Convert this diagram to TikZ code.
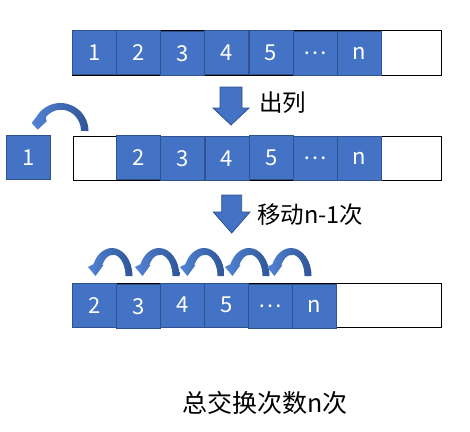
\documentclass[tikz,border=0pt]{standalone}
\usepackage{fontspec}
\setmainfont{Noto Sans CJK SC}
\definecolor{cellblue}{HTML}{4472C4}
\definecolor{cellborder}{HTML}{2F528F}
\definecolor{arcdark}{HTML}{2F5597}
\definecolor{arclight}{HTML}{5283D4}
\begin{document}
\begin{tikzpicture}[x=1pt,y=-1pt,
  cell/.style={draw=cellborder, line width=0.8pt, fill=cellblue, text=white,
    minimum width=44pt, minimum height=44pt, inner sep=0pt, anchor=north west,
    font=\fontsize{22}{26}\selectfont},
  queue/.style={draw=black, line width=1pt, fill=white, inner sep=0pt, anchor=north west},
  lbl/.style={inner sep=0pt, font=\fontsize{23.5}{28}\selectfont},
  downarrow/.style={fill=cellblue, draw=cellborder, line width=0.8pt},
  arcshade/.style={left color=arclight, right color=arcdark},
  smallarc/.pic={
    \shade[arcshade] (0,0) arc[start angle=0,end angle=-155,x radius=20.5,y radius=28]
      -- (-44.5,-9) -- (-37,0) -- (-29,-11) -- (-30.3,-10.65)
      arc[start angle=-150,end angle=0,x radius=12.5,y radius=21.3] -- cycle;
  },
  bigarc/.pic={
    \shade[arcshade] (0,0) arc[start angle=0,end angle=-150,x radius=28,y radius=28]
      -- (-56.8,-8) -- (-50.8,-1.3) -- (-41.8,-9.7) -- (-42.8,-13.7)
      arc[start angle=-140,end angle=0,x radius=20,y radius=21.3] -- cycle;
  }]
\useasboundingbox (0,0) rectangle (470,431);

% Row 1
\node[queue, minimum width=369pt, minimum height=45pt] (q1) at (72,30) {};
\node[cell] (a1) at (72,30) {1};
\node[cell] (a2) at (116.2,30) {2};
\node[cell] (a3) at (160.3,31) {3};
\node[cell] (a4) at (204.3,30) {4};
\node[cell] (a5) at (248.5,30) {5};
\node[cell] (a6) at (292.6,31) {…};
\node[cell] (a7) at (336.7,31) {n};

% Arrow 1 and label
\fill[downarrow] (220,87) -- (242,87) -- (242,108) -- (249,108) -- (231,125) -- (213,108) -- (220,108) -- cycle;
\node[lbl, anchor=west] (t1) at (259,103) {出列};

% Row 2
\node[cell] (b1) at (6,135) {1};
\pic at (88.5,131) {bigarc};
\node[queue, minimum width=368pt, minimum height=44.3pt] (q2) at (72.7,135.7) {};
\node[cell] (b2) at (116.3,135) {2};
\node[cell] (b3) at (160.3,136) {3};
\node[cell] (b4) at (204.5,136) {4};
\node[cell] (b5) at (248.7,135) {5};
\node[cell] (b6) at (292.7,136) {…};
\node[cell] (b7) at (336.7,136) {n};

% Arrow 2 and label
\fill[downarrow] (221.7,195) -- (241.7,195) -- (241.7,212) -- (250,212) -- (231.7,233) -- (213.3,212) -- (221.7,212) -- cycle;
\node[lbl, anchor=west] (t2) at (257,215) {移动n-1次};

% Row 3 arcs
\pic at (132.5,276) {smallarc};
\pic at (179.5,276) {smallarc};
\pic at (224.5,276) {smallarc};
\pic at (269.5,276) {smallarc};
\pic at (311.5,276) {smallarc};

% Row 3
\node[queue, minimum width=369pt, minimum height=44pt] (q3) at (72,282.7) {};
\node[cell] (c1) at (72,282.7) {2};
\node[cell] (c2) at (116,284) {3};
\node[cell] (c3) at (160,282.7) {4};
\node[cell] (c4) at (204,282.7) {5};
\node[cell] (c5) at (248,284) {…};
\node[cell] (c6) at (292,283.5) {n};

% Bottom text
\node[lbl, font=\fontsize{25}{30}\selectfont] (t3) at (265,403) {总交换次数n次};
\end{tikzpicture}
\end{document}
